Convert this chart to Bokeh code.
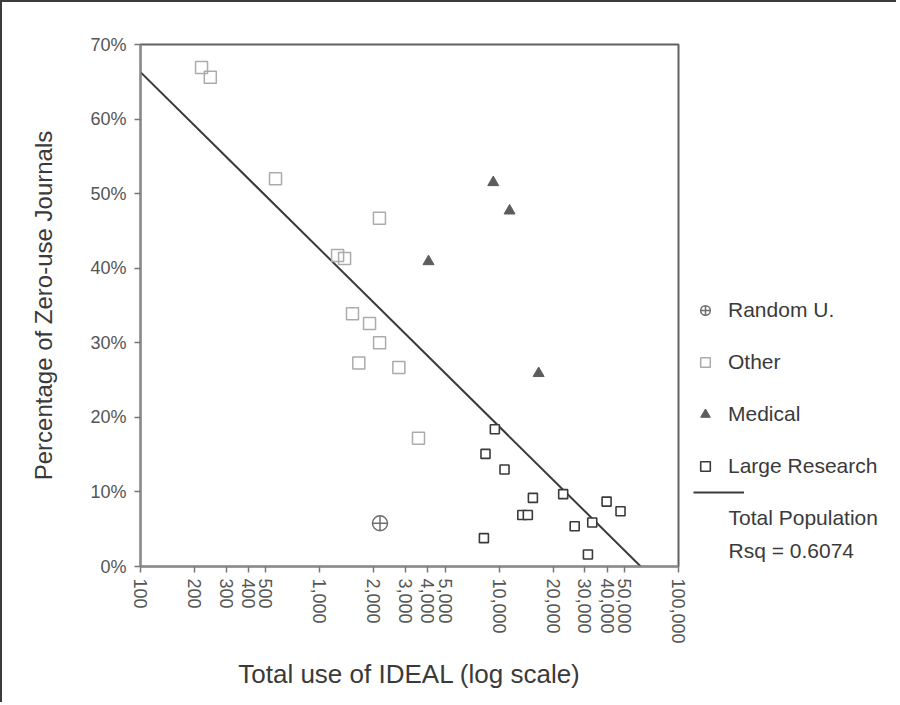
from bokeh.plotting import figure
from bokeh.layouts import row
from bokeh.models import (Range1d, FixedTicker, NumeralTickFormatter, Legend,
                          LegendItem, Label)
from bokeh.embed import file_html
from bokeh.resources import INLINE

# ---- data ----
other_use = [219, 245, 566, 2150, 1256, 1374, 1521, 1893, 2154, 1650, 2758, 3550]
other_pct = [0.669, 0.656, 0.520, 0.467, 0.417, 0.413, 0.339, 0.326, 0.300, 0.273, 0.267, 0.172]

medical_use = [9270, 11430, 4036, 16600]
medical_pct = [0.515, 0.477, 0.409, 0.259]

random_use = [2165]
random_pct = [0.058]

large_use = [9460, 8390, 10710, 15420, 13460, 14450, 8220, 22750, 26370, 33040, 39720, 47500, 31260]
large_pct = [0.184, 0.151, 0.130, 0.092, 0.069, 0.069, 0.038, 0.097, 0.054, 0.059, 0.087, 0.074, 0.016]

fit_use = [100, 100000]
fit_pct = [0.663, -0.050]
fit_label = "Total Population"
rsq_label = "Rsq = 0.6074"

series_names = ["Random U.", "Other", "Medical", "Large Research"]

x_ticks = [100, 200, 300, 400, 500, 1000, 2000, 3000, 4000, 5000,
           10000, 20000, 30000, 40000, 50000, 100000]
y_ticks = [0, 0.1, 0.2, 0.3, 0.4, 0.5, 0.6, 0.7]

FONT = "Liberation Sans"
H = 700

# marker styles
STY_RANDOM = dict(marker="circle_cross", size=15, fill_color=None, line_color="#6e6e6e", line_width=1.5)
STY_OTHER = dict(marker="square", size=12, fill_color=None, line_color="#ababab", line_width=1.5)
STY_MED = dict(marker="triangle", size=11, fill_color="#5c5c5c", line_color="#5c5c5c")
STY_LARGE = dict(marker="square", size=9, fill_color="white", line_color="#3a3a3a", line_width=1.6)
STY_FIT = dict(line_color="#3a3a3a", line_width=2)

# ---------------- main chart ----------------
p = figure(width=688, height=H, x_axis_type="log",
           x_range=Range1d(100, 100000), y_range=Range1d(0, 0.7),
           output_backend="svg", toolbar_location=None,
           min_border_left=138, min_border_right=12,
           min_border_top=42, min_border_bottom=H - 42 - 522)

p.xgrid.visible = False
p.ygrid.visible = False
p.outline_line_color = "#606060"
p.outline_line_width = 2

xa = p.xaxis[0]
xa.ticker = FixedTicker(ticks=x_ticks, minor_ticks=[])
xa.formatter = NumeralTickFormatter(format="0,0")
xa.major_label_orientation = "vertical"
ya = p.yaxis[0]
ya.ticker = FixedTicker(ticks=y_ticks, minor_ticks=[])
ya.formatter = NumeralTickFormatter(format="0%")
for ax in (xa, ya):
    ax.axis_line_color = "#8c8c8c"
    ax.axis_line_width = 2
    ax.major_tick_line_color = "#777777"
    ax.major_tick_line_width = 1.5
    ax.major_tick_out = 6
    ax.major_tick_in = 0
    ax.minor_tick_line_color = None
    ax.major_label_text_font = FONT
    ax.major_label_text_font_size = "18px"
    ax.major_label_text_color = "#555555"
    ax.axis_label_text_font = FONT
    ax.axis_label_text_font_style = "normal"
    ax.axis_label_text_color = "#3a3a3a"
xa.major_label_standoff = 6
ya.major_label_standoff = 8

ya.axis_label = "Percentage of Zero-use Journals"
ya.axis_label_text_font_size = "24px"
ya.axis_label_standoff = 30
xa.axis_label = "Total use of IDEAL (log scale)"
xa.axis_label_text_font_size = "26px"
xa.axis_label_standoff = 12

p.line(fit_use, fit_pct, **STY_FIT)
p.scatter(other_use, other_pct, **STY_OTHER)
p.scatter(medical_use, medical_pct, **STY_MED)
p.scatter(large_use, large_pct, **STY_LARGE)
p.scatter(random_use, random_pct, **STY_RANDOM)

# ---------------- legend panel (its frame lines up with the chart frame) ----------------
q = figure(width=206, height=H, x_range=Range1d(0, 1), y_range=Range1d(0, 1),
           output_backend="svg", toolbar_location=None,
           x_axis_location=None, y_axis_location=None, min_border=0)
q.grid.visible = False
q.outline_line_color = None

# legend-key renderers: same series, which fall outside this panel's 0..1 ranges
k_random = q.scatter(random_use, random_pct, **STY_RANDOM)
k_other = q.scatter(other_use, other_pct, **STY_OTHER)
k_med = q.scatter(medical_use, medical_pct, **STY_MED)
k_large = q.scatter(large_use, large_pct, **STY_LARGE)
k_fit = q.line(fit_use, fit_pct, **STY_FIT)

legA = Legend(items=[LegendItem(label=n, renderers=[r]) for n, r in
                     zip(series_names, [k_random, k_other, k_med, k_large])],
              location=(3, 88), orientation="vertical",
              glyph_width=24, glyph_height=24, label_standoff=11, spacing=28,
              padding=0, margin=0, border_line_color=None,
              background_fill_alpha=0,
              label_text_font=FONT, label_text_font_size="21px",
              label_text_color="#3a3a3a")
q.add_layout(legA)

legB = Legend(items=[LegendItem(label="", renderers=[k_fit])],
              location=(3, 64), glyph_width=51, glyph_height=20,
              padding=0, margin=0, border_line_color=None,
              background_fill_alpha=0, label_text_font_size="20px")
q.add_layout(legB)

for txt, yy in ((fit_label, 49), (rsq_label, 16)):
    q.add_layout(Label(x=38, y=yy, x_units="screen", y_units="screen", text=txt,
                       text_font=FONT, text_font_size="21px", text_color="#3a3a3a",
                       text_baseline="middle", text_align="left"))

layout = row(p, q, styles={"border-top": "2px solid #3c3c3c",
                           "border-left": "2px solid #3c3c3c"})

open("out.html", "w").write(file_html(layout, INLINE))
